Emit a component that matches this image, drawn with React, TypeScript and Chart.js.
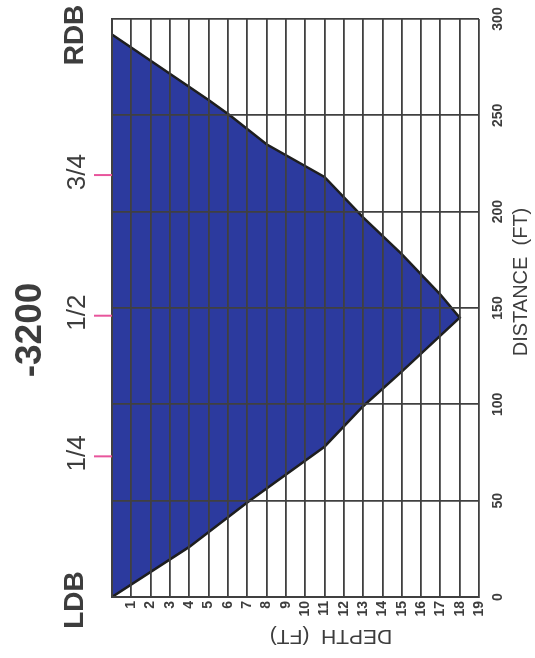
import React, { useEffect, useRef } from "react";
import { Chart, registerables } from "chart.js";

Chart.register(...registerables);

// Cross-section profile (distance from LDB in ft, depth in ft)
const distanceFt = [0, 26, 49, 78, 99, 117, 145, 157, 178, 197, 218, 235, 250, 258, 292];
const depthFt = [0, 4, 7, 11, 13, 15, 18, 17, 15, 13, 11, 8, 6.1, 5, 0];

const depthTicks = [1, 2, 3, 4, 5, 6, 7, 8, 9, 10, 11, 12, 13, 14, 15, 16, 17, 18, 19];
const distanceTicks = [0, 50, 100, 150, 200, 250, 300];

const title = "-3200";
const bankLabels = ["LDB", "RDB"];
const quarterLabels = ["1/4", "1/2", "3/4"];
const quarterDistances = [73, 146, 219];
const xTitle = "DEPTH  (FT)";
const yTitle = "DISTANCE  (FT)";

const FONT = "'Liberation Sans', Arial, Helvetica, sans-serif";
const TEXT = "#3d3d3d";
const GRID = "#404040";

const labelsPlugin = {
  id: "rotatedLabels",
  afterDraw(chart: any) {
    const { ctx, scales, chartArea } = chart;
    const xs = scales.x;
    const ys = scales.y;
    ctx.save();
    ctx.fillStyle = TEXT;

    const rotText = (s: string, x: number, y: number, angle: number, font: string, align: CanvasTextAlign) => {
      ctx.save();
      ctx.translate(x, y);
      ctx.rotate(angle);
      ctx.font = font;
      ctx.textAlign = align;
      ctx.textBaseline = "middle";
      ctx.fillText(s, 0, 0);
      ctx.restore();
    };

    // depth tick labels (bottom)
    depthTicks.forEach((d) => {
      rotText(String(d), xs.getPixelForValue(d), chartArea.bottom + 4, -Math.PI / 2, `bold 14px ${FONT}`, "right");
    });
    // distance tick labels (right)
    distanceTicks.forEach((v) => {
      rotText(String(v), 498, ys.getPixelForValue(v), -Math.PI / 2, `bold 14px ${FONT}`, "center");
    });
    // axis titles
    rotText(xTitle, 331, 636, Math.PI, `21px ${FONT}`, "center");
    rotText(yTitle, 521, 282, -Math.PI / 2, `20px ${FONT}`, "center");

    // title
    rotText(title, 31, 330, -Math.PI / 2, `bold 37px ${FONT}`, "center");

    // bank labels
    rotText(bankLabels[0], 75, 600, -Math.PI / 2, `bold 28px ${FONT}`, "center");
    rotText(bankLabels[1], 75, 35, -Math.PI / 2, `bold 28px ${FONT}`, "center");

    // quarter labels + pink marks
    quarterLabels.forEach((s, i) => {
      const y = ys.getPixelForValue(quarterDistances[i]);
      rotText(s, 78, y - 3, -Math.PI / 2, `26px ${FONT}`, "center");
      ctx.strokeStyle = "#e8559c";
      ctx.lineWidth = 2;
      ctx.beginPath();
      ctx.moveTo(94, y);
      ctx.lineTo(chartArea.left, y);
      ctx.stroke();
    });
    ctx.restore();
  },
};

export default function App() {
  const ref = useRef<HTMLCanvasElement>(null);
  useEffect(() => {
    if (!ref.current) return;
    const points = distanceFt.map((d, i) => ({ x: depthFt[i], y: d }));
    const chart = new Chart(ref.current, {
      type: "line",
      data: {
        datasets: [
          {
            data: points,
            borderColor: "#1e1e1e",
            borderWidth: 2.5,
            backgroundColor: "#2c3a9e",
            fill: "origin",
            pointRadius: 0,
            tension: 0,
          },
        ],
      },
      options: {
        indexAxis: "y",
        animation: false,
        responsive: false,
        maintainAspectRatio: false,
        layout: { padding: { left: 112, top: 19, right: 56, bottom: 61 } },
        plugins: { legend: { display: false }, tooltip: { enabled: false } },
        scales: {
          x: {
            type: "linear",
            min: 0,
            max: 19,
            position: "bottom",
            ticks: { display: false, stepSize: 1 },
            grid: { color: GRID, lineWidth: 1.8, drawTicks: false, z: 1 },
            border: { display: true, color: GRID, width: 2, z: 1 },
          },
          y: {
            type: "linear",
            min: 0,
            max: 300,
            position: "left",
            ticks: { display: false, stepSize: 50 },
            grid: { color: GRID, lineWidth: 1.8, drawTicks: false, z: 1 },
            border: { display: true, color: GRID, width: 2, z: 1 },
          },
        },
      },
      plugins: [labelsPlugin],
    } as any);
    return () => chart.destroy();
  }, []);
  return (
    <div style={{ position: "fixed", left: 0, top: 0, width: 535, height: 658, background: "#fff" }}>
      <canvas ref={ref} width={535} height={658} style={{ width: 535, height: 658, display: "block" }} />
    </div>
  );
}
